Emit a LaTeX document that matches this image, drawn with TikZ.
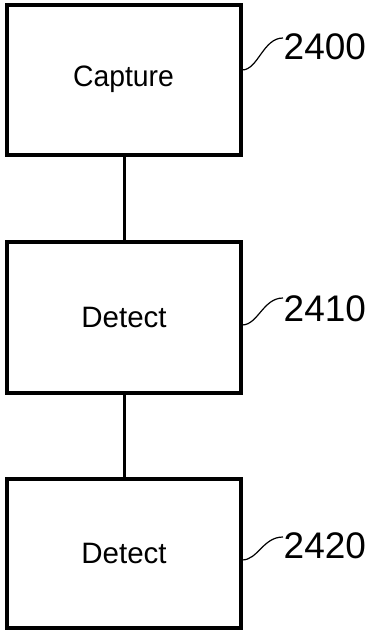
\documentclass[tikz,border=0pt]{standalone}
\usepackage{fontspec}
\setmainfont{Liberation Sans}
\begin{document}
\begin{tikzpicture}[x=1pt,y=-1pt,
  stepbox/.style={draw=black, line width=4pt, minimum width=234pt, minimum height=150pt,
    inner sep=0pt, font=\fontsize{29.5}{31}\selectfont, text height=21pt},
  reflab/.style={anchor=base west, inner sep=0pt, font=\fontsize{37}{40}\selectfont},
  link/.style={line width=3pt},
  leader/.style={line width=1.2pt}]
\useasboundingbox (0,0) rectangle (370,631);
\node[stepbox, text depth=7.5pt, minimum height=149.5pt] (b1) at (123.5,80.25) {\scalebox{0.96}[1]{Capture}};
\node[stepbox, text depth=1.5pt, minimum height=150.5pt] (b2) at (123.5,317.25) {\hspace{1pt}Detect};
\node[stepbox, text depth=1.5pt, minimum height=148.5pt] (b3) at (123.5,553.25) {\hspace{1pt}Detect};
\draw[link] ([xshift=0.5pt]b1.south) -- ([xshift=0.5pt]b2.north);
\draw[link] ([xshift=0.5pt]b2.south) -- ([xshift=0.5pt]b3.north);
\node[reflab] (l1) at (283.5,60) {2400};
\node[reflab] (l2) at (283.5,321) {2410};
\node[reflab] (l3) at (283.5,558) {2420};
\coordinate (s1) at (242,70);
\coordinate (e1) at (283,38);
\coordinate (s2) at (242,325);
\coordinate (e2) at (283,298);
\coordinate (s3) at (242,560);
\coordinate (e3) at (283,537);
\draw[leader] (s1) .. controls (258,70) and (263,38) .. (e1);
\draw[leader] (s2) .. controls (258,325) and (263,298) .. (e2);
\draw[leader] (s3) .. controls (258,560) and (263,537) .. (e3);
\end{tikzpicture}
\end{document}
